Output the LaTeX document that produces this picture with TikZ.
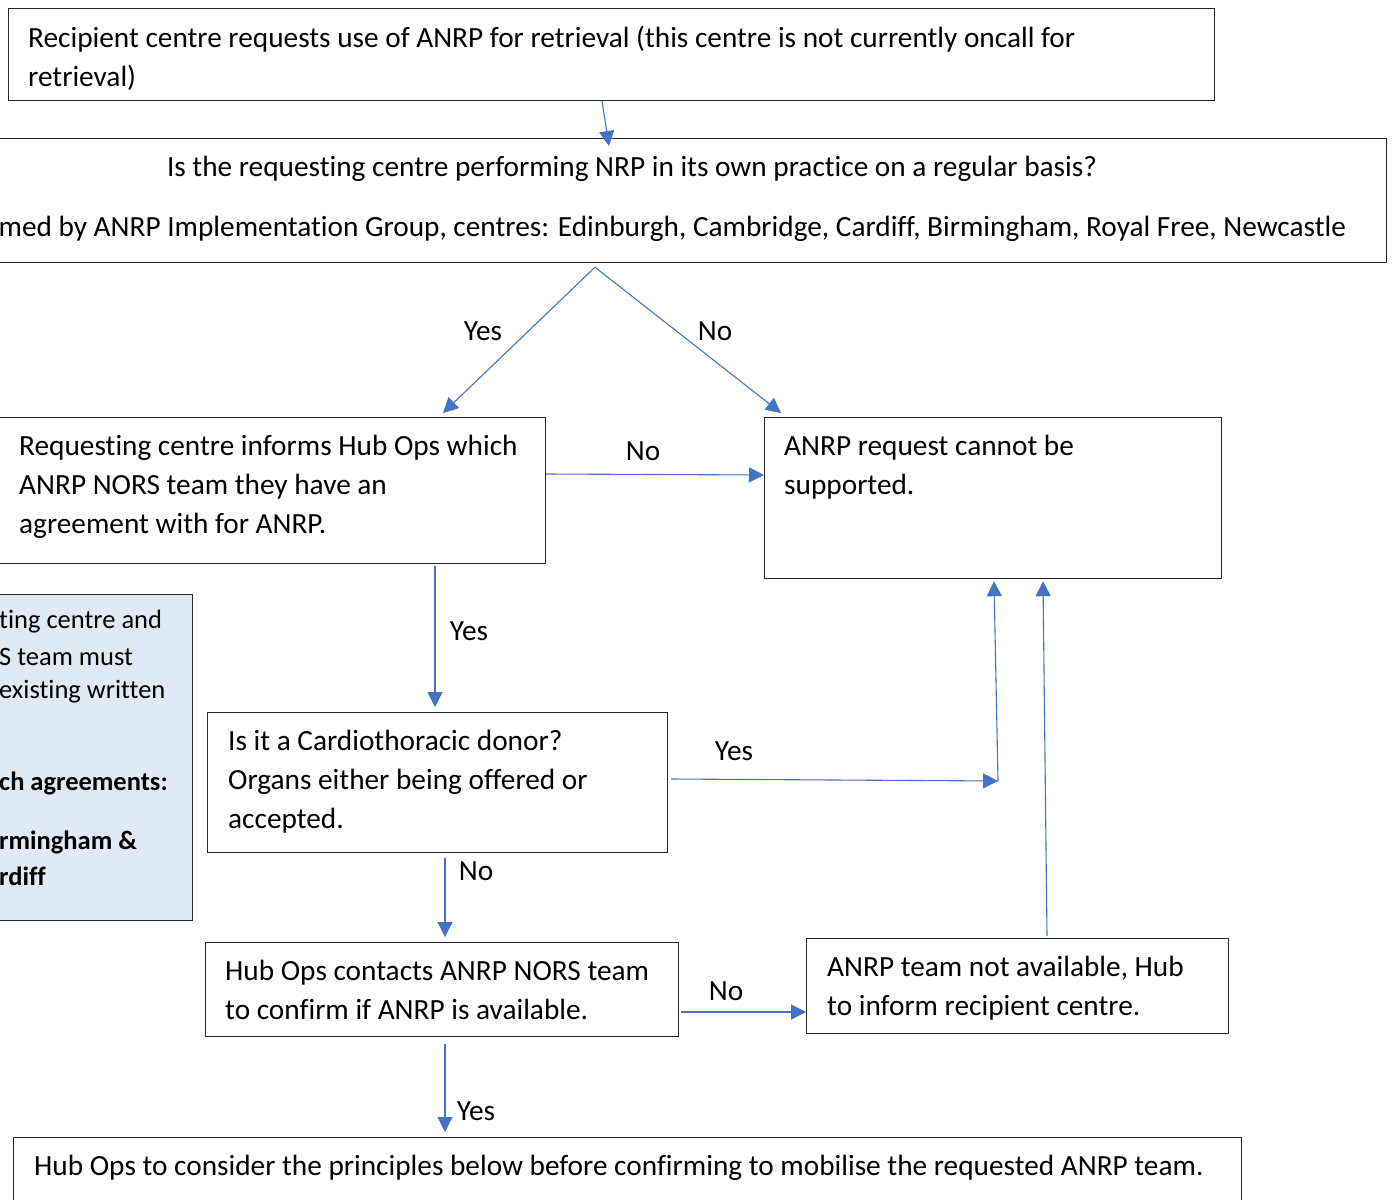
\documentclass[tikz,border=0pt]{standalone}
\usepackage{fontspec}
\setmainfont{Carlito}[Ligatures=NoCommon]
\usetikzlibrary{arrows.meta}
\definecolor{arrowblue}{HTML}{4472C4}
\definecolor{notefill}{HTML}{DEEBF7}
\begin{document}
\begin{tikzpicture}[x=1pt,y=-1pt,
 box/.style={draw=black!85,line width=1.2pt,inner sep=0pt,anchor=north west},
 txt/.style={inner sep=0pt,anchor=north west,align=left,font=\fontsize{29.3}{39}\selectfont},
 notetxt/.style={inner sep=0pt,anchor=west,font=\fontsize{26.5}{35}\selectfont},
 notebold/.style={notetxt,font=\fontsize{26.5}{35}\selectfont\bfseries},
 lbl/.style={inner sep=0pt,font=\fontsize{29.3}{30}\selectfont},
 arr/.style={draw=arrowblue,line width=1.1pt,-{Triangle[length=15pt,width=15pt]}}]
\useasboundingbox (0,0) rectangle (1394,1199);
\clip (0,0) rectangle (1394,1199);
% boxes
\node[box,minimum width=1206pt,minimum height=92pt] (b1) at (8,8) {};
\node[box,minimum width=1406pt,minimum height=124pt] (b2) at (-20,138) {};
\node[box,minimum width=565pt,minimum height=146pt] (b3) at (-20,417) {};
\node[box,minimum width=457pt,minimum height=161pt] (b4) at (764,417) {};
\node[box,fill=notefill,minimum width=212pt,minimum height=326pt] (bn) at (-20,594) {};
\node[box,minimum width=460pt,minimum height=140pt] (b5) at (207,712) {};
\node[box,minimum width=473pt,minimum height=94pt] (b6) at (205,942) {};
\node[box,minimum width=422pt,minimum height=95pt] (b7) at (806,938) {};
\node[box,minimum width=1228pt,minimum height=100pt] (b8) at (13,1137) {};
% texts
\node[txt] (t1) at (28,26) {Recipient centre requests use of ANRP for retrieval (this centre is not currently oncall for\\retrieval)};
\node[txt,anchor=north] (t2a) at (632,156) {Is the requesting centre performing NRP in its own practice on a regular basis?};
\node[txt,anchor=north east] (t2b) at (1346,216) {med by ANRP Implementation Group, centres: Edinburgh, Cambridge, Cardiff, Birmingham, Royal Free, Newcastle};
\node[txt] (t3) at (19,435) {Requesting centre informs Hub Ops which\\ANRP NORS team they have an\\agreement with for ANRP.};
\node[txt] (t4) at (784,435) {ANRP request cannot be\\supported.};
\node[notetxt] (n1) at (-1,622) {ting centre and};
\node[notetxt] (n2) at (-1,657) {S team must};
\node[notetxt] (n3) at (-1,692) {existing written};
\node[notebold] (n4) at (-1,783) {ch agreements:};
\node[notebold] (n5) at (-1,842) {rmingham \&};
\node[notebold] (n6) at (-1,876) {rdiff};
\node[txt] (t5) at (228,730) {Is it a Cardiothoracic donor?\\Organs either being offered or\\accepted.};
\node[txt] (t6) at (225,960) {Hub Ops contacts ANRP NORS team\\to confirm if ANRP is available.};
\node[txt] (t7) at (827,956) {ANRP team not available, Hub\\to inform recipient centre.};
\node[txt] (t8) at (34,1155) {Hub Ops to consider the principles below before confirming to mobilise the requested ANRP team.};
% connectors
\coordinate (c1) at (998,781);
\draw[arr] ([xshift=594pt]b1.south west) -- ([xshift=629pt,yshift=-8pt]b2.north west);
\draw[arr] ([xshift=615pt,yshift=-4pt]b2.south west) -- ([xshift=463pt,yshift=4pt]b3.north west);
\draw[arr] ([xshift=615pt,yshift=-4pt]b2.south west) -- ([xshift=17pt,yshift=4pt]b4.north west);
\draw[arr] ([yshift=-57pt]b3.north east) -- ([yshift=-58pt]b4.north west);
\draw[arr] ([xshift=455pt,yshift=-2pt]b3.south west) -- ([xshift=228pt,yshift=5pt]b5.north west);
\draw[arr] ([xshift=3pt,yshift=-67pt]b5.north east) -- (c1);
\draw[arr] (c1) -- ([xshift=230pt,yshift=-2pt]b4.south west);
\draw[arr] ([xshift=241pt,yshift=2pt]b7.north west) -- ([xshift=279pt,yshift=-2pt]b4.south west);
\draw[arr] ([xshift=238pt,yshift=-5pt]b5.south west) -- ([xshift=240pt,yshift=5pt]b6.north west);
\draw[arr] ([xshift=2pt,yshift=-70pt]b6.north east) -- ([yshift=-74pt]b7.north west);
\draw[arr] ([xshift=240pt,yshift=-7pt]b6.south west) -- ([xshift=432pt,yshift=5pt]b8.north west);
% labels
\node[lbl] (l1) at (483,331) {Yes};
\node[lbl] (l2) at (715,331) {No};
\node[lbl] (l3) at (643,451) {No};
\node[lbl] (l4) at (469,631) {Yes};
\node[lbl] (l5) at (734,751) {Yes};
\node[lbl] (l6) at (476,871) {No};
\node[lbl] (l7) at (726,991) {No};
\node[lbl] (l8) at (476,1111) {Yes};
\end{tikzpicture}
\end{document}
